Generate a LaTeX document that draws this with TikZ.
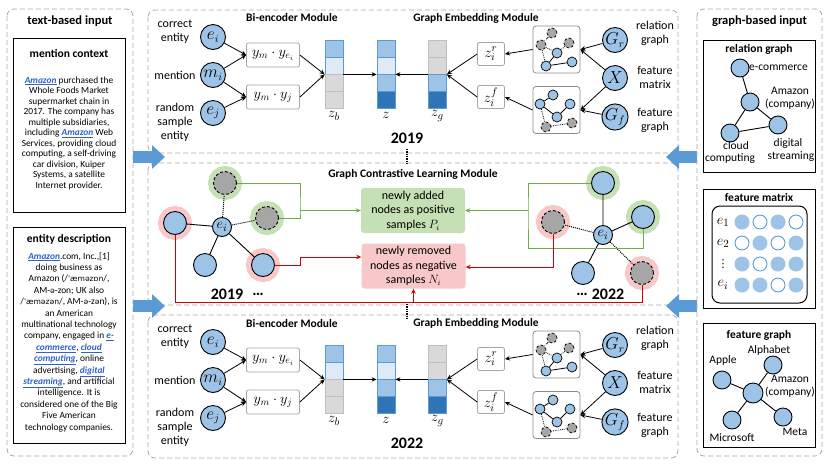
\documentclass[tikz,border=0pt]{standalone}
\usepackage{fontspec}
\setmainfont{Carlito}
\newfontfamily\ipafont{DejaVu Sans}
\usetikzlibrary{arrows.meta,positioning}

\definecolor{nblue}{HTML}{9DC3E6}
\definecolor{lblue}{HTML}{DEEBF7}
\definecolor{dblue}{HTML}{2E75B6}
\definecolor{eblue}{HTML}{5B9BD5}
\definecolor{cgray}{HTML}{D9D9D9}
\definecolor{ngray}{HTML}{A6A6A6}
\definecolor{hgreen}{HTML}{C5E0B4}
\definecolor{hred}{HTML}{F8C8C8}
\definecolor{lgreen}{HTML}{70AD47}
\definecolor{lred}{HTML}{D40000}
\definecolor{linkblue}{HTML}{3060C8}

\newcommand{\lnk}[1]{{\color{linkblue}\bfseries\itshape\underline{#1}}}
\newcommand{\ipatxt}[1]{{\ipafont\fontsize{7.6}{9}\selectfont #1}}

\begin{document}
\begin{tikzpicture}[x=1pt, y=-1pt,
  frame/.style={draw=black!35, dash pattern=on 5pt off 3pt, rounded corners=7pt, line width=0.8pt},
  srcbox/.style={draw=black, line width=1pt},
  hdr/.style={font=\bfseries\fontsize{12.5}{14}\selectfont, inner sep=0},
  boxtitle/.style={font=\bfseries\fontsize{11.5}{13}\selectfont, inner sep=0},
  modtitle/.style={font=\bfseries\fontsize{11.5}{13}\selectfont, inner sep=0},
  para/.style={align=center, inner sep=0},
  lbl/.style={align=center, font=\fontsize{12}{14}\selectfont, inner sep=0},
  ent/.style={circle, draw=black, fill=nblue, minimum size=25, inner sep=0, line width=0.9pt, font=\fontsize{16}{16}\selectfont},
  score/.style={draw=black!35, rounded corners=2pt, fill=white, minimum width=53, minimum height=24, inner sep=0, line width=0.8pt, font=\fontsize{14.4}{14.4}\selectfont},
  cellb/.style={draw=eblue, minimum width=18, minimum height=17, inner sep=0, line width=0.8pt},
  cellg/.style={draw=black!25, minimum width=18, minimum height=17, inner sep=0, line width=0.8pt},
  zlbl/.style={font=\fontsize{15}{15}\selectfont, inner sep=0},
  thumb/.style={draw=black!45, rounded corners=3pt, minimum width=47, minimum height=47, inner sep=0, line width=0.8pt},
  tb/.style={circle, draw=black, fill=nblue, minimum size=10, inner sep=0, line width=0.7pt},
  tg/.style={circle, draw=black, fill=ngray, densely dashed, minimum size=10, inner sep=0, line width=0.7pt},
  arr/.style={-{Stealth[length=5pt, width=4.5pt]}, line width=0.8pt},
  year/.style={font=\bfseries\fontsize{16}{16}\selectfont, inner sep=0},
  gn/.style={circle, draw=black, fill=nblue, minimum size=23, inner sep=0, line width=0.9pt},
  gc/.style={circle, draw=black, fill=nblue, minimum size=19, inner sep=0, line width=0.9pt, font=\fontsize{15}{15}\selectfont},
  gg/.style={circle, draw=black, fill=ngray, dash pattern=on 3pt off 2pt, minimum size=23, inner sep=0, line width=0.9pt},
  halog/.style={preaction={draw=hgreen, solid, line width=11pt}},
  halor/.style={preaction={draw=hred, solid, line width=11pt}},
  sbox/.style={rounded corners=3pt, minimum width=104, minimum height=45, align=center, inner sep=0, font=\fontsize{12}{14.5}\selectfont},
  gline/.style={draw=lgreen, line width=0.9pt},
  rline/.style={draw=lred, line width=0.9pt},
  garr/.style={gline, -{Stealth[length=5pt, width=4.5pt]}},
  rarr/.style={rline, -{Stealth[length=5pt, width=4.5pt]}},
  bigarr/.style={draw=eblue, line width=12pt, -{Triangle[length=13pt, width=23pt]}},
  rn/.style={circle, draw=black, fill=nblue, minimum size=18, inner sep=0, line width=0.9pt},
  glbl/.style={align=center, font=\fontsize{11.5}{13}\selectfont, inner sep=0},
  fmon/.style={circle, fill=nblue, minimum size=15, inner sep=0},
  fmoff/.style={circle, draw=eblue, fill=white, minimum size=14, inner sep=0, line width=0.9pt}
]
  \useasboundingbox (0,0) rectangle (830,467);

  % text-based input
  \draw[frame] (7,9) rectangle (133,456);
  \node[hdr] (tbi) at (70,21) {text-based input};
  \draw[srcbox] (13,38) rectangle (125,212);
  \node[boxtitle] (ctxt) at (69,53) {mention context};
  \node[para, font=\fontsize{9.4}{10.5}\selectfont] (ctx) at (69,133) {\lnk{Amazon} purchased the\\
    Whole Foods Market\\
    supermarket chain in\\
    2017. The company has\\
    multiple subsidiaries,\\
    including \lnk{Amazon} Web\\
    Services, providing cloud\\
    computing, a self-driving\\
    car division, Kuiper\\
    Systems, a satellite\\
    Internet provider.};
  \draw[srcbox] (13,227) rectangle (125,443);
  \node[boxtitle] (edt) at (69,239) {entity description};
  \node[para, font=\fontsize{9.4}{11.4}\selectfont] (ed) at (69,342) {\lnk{Amazon}.com, Inc.,[1]\\
    doing business as\\
    Amazon (/\ipatxt{ˈæməzɒn}/,\\
    AM-\ipatxt{ə}-zon; UK also\\
    /\ipatxt{ˈæməzən}/, AM-\ipatxt{ə}-z\ipatxt{ə}n), is\\
    an American\\
    multinational technology\\
    company, engaged in \lnk{e-}\\
    \lnk{commerce}, \lnk{cloud}\\
    \lnk{computing}, online\\
    advertising, \lnk{digital}\\
    \lnk{streaming}, and artificial\\
    intelligence. It is\\
    considered one of the Big\\
    Five American\\
    technology companies.};

  % bi-encoder + graph embedding, once per year
  \foreach \yr/\dy in {2019/0, 2022/305}{
  \begin{scope}[shift={(0,\dy)}]
    \draw[frame] (148,10) rectangle (678,153);
    \node[modtitle] (bit\yr) at (292,18) {Bi-encoder Module};
    \node[modtitle] (get\yr) at (476,18) {Graph Embedding Module};
    \node[lbl] (lce\yr) at (175,32) {correct\\entity};
    \node[lbl] (lme\yr) at (175,75) {mention};
    \node[lbl] (lre\yr) at (175,122) {random\\sample\\entity};
    \node[ent] (ei\yr) at (213,37) {$e_i$};
    \node[ent] (mi\yr) at (213,75) {$m_i$};
    \node[ent] (ej\yr) at (213,113) {$e_j$};
    \node[score] (sa\yr) at (273,55) {$y_m\cdot y_{e_i}$};
    \node[score] (sb\yr) at (273,97) {$y_m\cdot y_j$};
    \foreach \f/\s [count=\k] in {nblue/cellb, lblue/cellb, cgray/cellg, cgray/cellg}
      \node[\s, fill=\f] (zb\k\yr) at (334,{31.5+17*\k}) {};
    \foreach \f/\s [count=\k] in {nblue/cellb, lblue/cellb, nblue/cellb, dblue/cellb}
      \node[\s, fill=\f] (zz\k\yr) at (386,{31.5+17*\k}) {};
    \foreach \f/\s [count=\k] in {cgray/cellg, cgray/cellg, nblue/cellb, dblue/cellb}
      \node[\s, fill=\f] (zg\k\yr) at (437.5,{31.5+17*\k}) {};
    \node[zlbl] (zbl\yr) at (334,116) {$z_b$};
    \node[zlbl] (zzl\yr) at (386,115) {$z$};
    \node[zlbl] (zgl\yr) at (437.5,116) {$z_g$};
    \node[score, minimum width=27, minimum height=23, font=\fontsize{15}{15}\selectfont] (zr\yr) at (491,54) {$z_i^r$};
    \node[score, minimum width=27, minimum height=23, font=\fontsize{15}{15}\selectfont] (zf\yr) at (491,97) {$z_i^f$};
    \node[thumb] (thr\yr) at (556.5,49.5) {};
    \node[thumb] (thf\yr) at (556.5,110) {};
    \node[tg] (mr1\yr) at (552,33) {};
    \node[tg] (mr2\yr) at (541,45) {};
    \node[tg] (mr3\yr) at (569,43) {};
    \node[tb] (mr4\yr) at (557,53) {};
    \node[tb] (mr5\yr) at (546,66) {};
    \node[tb] (mr6\yr) at (572,62) {};
    \draw[densely dashed, line width=0.7pt] (mr1\yr) -- (mr2\yr);
    \draw[densely dotted, line width=0.8pt] (mr2\yr) -- (mr4\yr) (mr2\yr) -- (mr5\yr) (mr3\yr) -- (mr4\yr);
    \draw[line width=0.8pt] (mr4\yr) -- (mr5\yr) (mr5\yr) -- (mr6\yr);
    \node[tb] (mf1\yr) at (553,95) {};
    \node[tb] (mf2\yr) at (540,104) {};
    \node[tb] (mf3\yr) at (570,104) {};
    \node[tb] (mf4\yr) at (557,117) {};
    \node[tg] (mf5\yr) at (546,127) {};
    \node[tg] (mf6\yr) at (572,123) {};
    \draw[line width=0.8pt] (mf1\yr) -- (mf2\yr) (mf2\yr) -- (mf4\yr) (mf4\yr) -- (mf3\yr);
    \draw[densely dotted, line width=0.8pt] (mf2\yr) -- (mf5\yr) (mf5\yr) -- (mf6\yr);
    \node[ent] (gr\yr) at (615,40) {$G_r$};
    \node[ent] (gx\yr) at (615,78) {$X$};
    \node[ent] (gf\yr) at (615,117) {$G_f$};
    \node[lbl] (lgr\yr) at (655,33) {relation\\graph};
    \node[lbl] (lgx\yr) at (655,77) {feature\\matrix};
    \node[lbl] (lgf\yr) at (655,120) {feature\\graph};
    \node[year] (yr\yr) at (407,138) {\yr};
    \draw[arr] (ei\yr) -- (sa\yr.west);
    \draw[arr] (mi\yr) -- (sa\yr.west);
    \draw[arr] (mi\yr) -- (sb\yr.west);
    \draw[arr] (ej\yr) -- (sb\yr.west);
    \draw[arr] (sa\yr.east) -- (zb2\yr.south west);
    \draw[arr] (sb\yr.east) -- (zb2\yr.south west);
    \draw[arr] (zb2\yr.south east) -- (zz2\yr.south west);
    \draw[arr] (zg2\yr.south west) -- (zz2\yr.south east);
    \draw[arr] (zr\yr.west) -- (zg2\yr.south east);
    \draw[arr] (zf\yr.west) -- (zg2\yr.south east);
    \draw[arr] (thr\yr.west) -- (zr\yr.east);
    \draw[arr] (thf\yr.west) -- (zf\yr.east);
    \draw[arr] (gr\yr) -- (thr\yr.east);
    \draw[arr] (gx\yr) -- (thr\yr.east);
    \draw[arr] (gx\yr) -- (thf\yr.east);
    \draw[arr] (gf\yr) -- (thf\yr.east);
  \end{scope}
  }
  \draw[densely dotted, line width=1.3pt] (407,149) -- (407,163);
  \draw[densely dotted, line width=1.3pt] (407,304) -- (407,318);

  % graph contrastive learning
  \draw[frame] (148,163) rectangle (678,305);
  \node[modtitle] (gclt) at (413,174) {Graph Contrastive Learning Module};
  \node[sbox, fill=hgreen] (pos) at (413,210.5) {newly added\\nodes as positive\\samples $P_i$};
  \node[sbox, fill=hred] (neg) at (413.5,266) {newly removed\\nodes as negative\\samples $N_i$};

  \node[gg, halog] (lgt) at (225,183) {};
  \node[gg, halog] (lgr) at (267,218) {};
  \node[gn, halor] (lbl) at (175,223) {};
  \node[gn] (lbb) at (205,265) {};
  \node[gn, halor] (lbr) at (263,265) {};
  \node[gc] (lei) at (222,227) {$e_i$};
  \draw[densely dotted, line width=1pt] (lei) -- (lgt) (lei) -- (lgr);
  \draw[line width=0.9pt] (lei) -- (lbl) (lei) -- (lbb) (lei) -- (lbr);
  \node[year] (ly) at (227,294) {2019};
  \node[year] (ld) at (258,294) {\dots};

  \node[gn, halog] (rbt) at (603,183) {};
  \node[gn, halog] (rbr) at (643,217) {};
  \node[gg, halor] (rgl) at (553,222) {};
  \node[gn] (rbb) at (583,273) {};
  \node[gg, halor] (rgr) at (642,273) {};
  \node[gc] (rei) at (603,235) {$e_i$};
  \draw[line width=0.9pt] (rei) -- (rbt) (rei) -- (rbr) (rei) -- (rbb);
  \draw[densely dotted, line width=1pt] (rei) -- (rgl) (rei) -- (rgr);
  \node[year] (rd) at (582,294) {\dots};
  \node[year] (ry) at (608,294) {2022};

  \coordinate (gjoinL) at (300,210.5);
  \coordinate (rjoinL) at (300,257);
  \coordinate (gjoinR) at (528,210.5);
  \coordinate (gcornR) at (643,248);
  \coordinate (rjoinR) at (553,267);
  \coordinate (rloopL) at (175,302);
  \coordinate (rloopM) at (413.5,302);
  \coordinate (rloopR) at (642,302);
  \draw[gline] (lgt.east) -| (gjoinL) |- (lgr.east);
  \draw[garr] (gjoinL) -- (pos.west);
  \draw[gline] (rbt.west) -| (gjoinR) |- (gcornR) -- (rbr.south);
  \draw[garr] (gjoinR) -- (pos.east);
  \draw[rarr] (lbr.east) -| (rjoinL) -- (rjoinL -| neg.west);
  \draw[rarr] (rgl.south) -- (rjoinR) -- (rjoinR -| neg.east);
  \draw[rline] (lbl.south) -- (rloopL) -- (rloopR) -- (rgr.south);
  \draw[rarr] (rloopM) -- (neg.south);

  % big input arrows
  \draw[bigarr] (133,157) -- (165,157);
  \draw[bigarr] (133,306) -- (165,306);
  \draw[bigarr] (697,157) -- (666,157);
  \draw[bigarr] (697,306) -- (666,306);

  % graph-based input
  \draw[frame] (697,9) rectangle (822,456);
  \node[hdr] (gbi) at (759.5,21) {graph-based input};

  \draw[srcbox] (703,40) rectangle (815,172);
  \node[boxtitle] (rgt) at (759,49) {relation graph};
  \node[rn] (recom) at (740,68) {};
  \node[rn] (ramz) at (750,102) {};
  \node[rn] (rcld) at (730,133) {};
  \node[rn] (rdig) at (778,125) {};
  \draw[line width=0.9pt] (recom) -- (ramz) (ramz) -- (rcld) (ramz) -- (rdig) (rcld) -- (rdig);
  \node[glbl, anchor=west] (recoml) at (749,68) {e-commerce};
  \node[glbl] (ramzl) at (790,98) {Amazon\\(company)};
  \node[glbl] (rcldl) at (736,146) {cloud};
  \node[glbl] (rcldm) at (730,159) {computing};
  \node[glbl] (rdigl) at (788,143) {digital};
  \node[glbl] (rdigm) at (791,157) {streaming};

  \draw[srcbox] (703,189) rectangle (815,308);
  \node[boxtitle] (fmt) at (759,198) {feature matrix};
  \draw[line width=1pt, rounded corners=8pt] (712,206) rectangle (807,303);
  \node[zlbl] (fml1) at (723,222) {$e_1$};
  \node[zlbl] (fml2) at (723,243) {$e_2$};
  \node[inner sep=0, font=\ipafont\fontsize{11}{11}\selectfont] (fml3) at (723,264) {⋮};
  \node[zlbl] (fml4) at (723,285) {$e_i$};
  \foreach \p [count=\k] in {1,0,1,0, 0,1,0,1, 1,0,1,1, 1,1,0,1}{
    \pgfmathtruncatemacro{\row}{div(\k-1,4)}
    \pgfmathtruncatemacro{\col}{mod(\k-1,4)}
    \ifnum\p=1
      \node[fmon] (fm\k) at ({742+18*\col},{222+21*\row}) {};
    \else
      \node[fmoff] (fm\k) at ({742+18*\col},{222+21*\row}) {};
    \fi
  }

  \draw[srcbox] (703,323) rectangle (815,447);
  \node[boxtitle] (fgt) at (759,335) {feature graph};
  \node[rn] (fgalp) at (773,365) {};
  \node[rn] (fgapp) at (722,380) {};
  \node[rn, minimum size=20] (fgamz) at (753,393) {};
  \node[rn] (fgmic) at (732,420) {};
  \node[rn] (fgmet) at (783,417) {};
  \draw[line width=0.9pt] (fgamz) -- (fgalp) (fgamz) -- (fgapp) (fgamz) -- (fgmic) (fgamz) -- (fgmet);
  \node[glbl] (fgalpl) at (769,350) {Alphabet};
  \node[glbl] (fgappl) at (723,360) {Apple};
  \node[glbl] (fgamzl) at (790,386) {Amazon\\(company)};
  \node[glbl] (fgmicl) at (732,438) {Microsoft};
  \node[glbl] (fgmetl) at (795,432) {Meta};
\end{tikzpicture}
\end{document}
